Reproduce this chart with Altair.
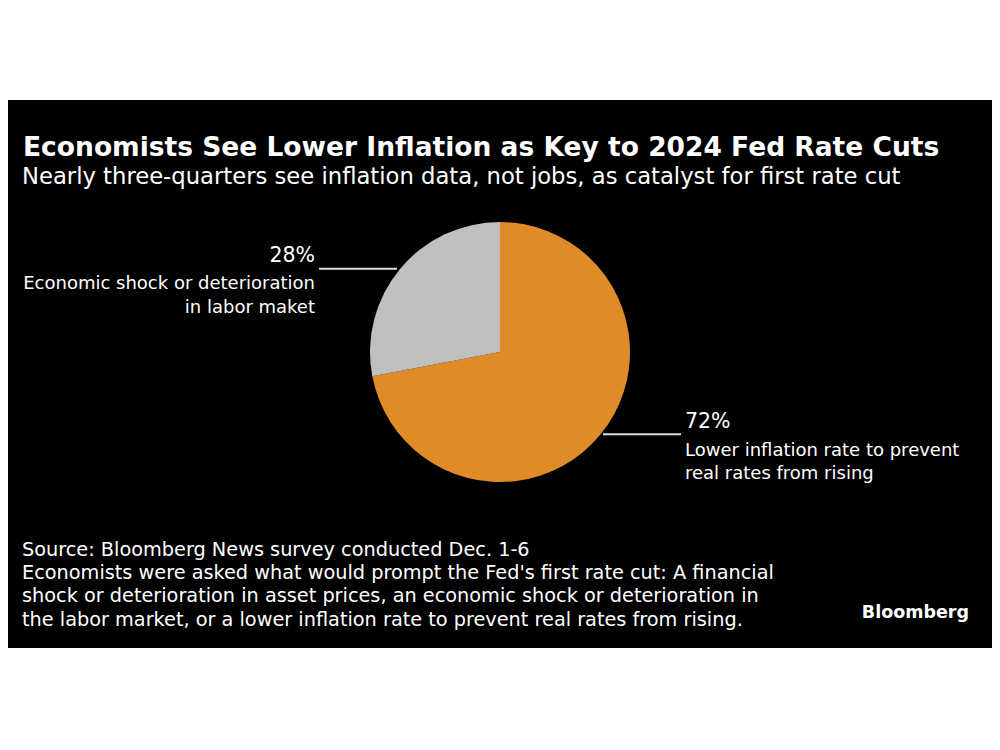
import altair as alt
import pandas as pd

# ---- data ----
categories = ["Lower inflation rate to prevent real rates from rising",
              "Economic shock or deterioration in labor maket"]
values = [72, 28]
colors = ["#DF8C28", "#BFBFBF"]

title_text = "Economists See Lower Inflation as Key to 2024 Fed Rate Cuts"
subtitle_text = "Nearly three-quarters see inflation data, not jobs, as catalyst for first rate cut"
label_pct = ["72%", "28%"]
label_72_lines = ["Lower inflation rate to prevent", "real rates from rising"]
label_28_lines = ["Economic shock or deterioration", "in labor maket"]
footnote_lines = [
    "Source: Bloomberg News survey conducted Dec. 1-6",
    "Economists were asked what would prompt the Fed's first rate cut: A financial",
    "shock or deterioration in asset prices, an economic shock or deterioration in",
    "the labor market, or a lower inflation rate to prevent real rates from rising.",
]
brand = "Bloomberg"

FONT = "DejaVu Sans"
W, H = 984, 548
CX, CY, R = 492, 252, 130

pie_df = pd.DataFrame({"category": categories, "value": values,
                       "order": list(range(len(categories)))})

pie = alt.Chart(pie_df).mark_arc(outerRadius=R, stroke=None).encode(
    theta=alt.Theta("value:Q", stack=True),
    color=alt.Color("category:N", scale=alt.Scale(domain=categories, range=colors), legend=None),
    order=alt.Order("order:Q"),
    x=alt.value(CX), y=alt.value(CY),
)


def one():
    return alt.Chart(pd.DataFrame({"k": [0]}))


def txt(s, x, y, size, align="left", weight="normal", color="#ffffff"):
    return one().mark_text(text=s, align=align, baseline="alphabetic", fontSize=size,
                           font=FONT, fontWeight=weight, color=color).encode(
        x=alt.value(x), y=alt.value(y))


def hline(x1, x2, y):
    return one().mark_rule(color="#dcdcdc", strokeWidth=2).encode(
        x=alt.value(x1), x2=alt.value(x2), y=alt.value(y))


layers = [pie,
          txt(title_text, 15, 56, 26.5, weight="bold"),
          txt(subtitle_text, 14, 84, 22.7),
          hline(311, 389, 168.7),
          txt(label_pct[1], 307, 162, 20.5, align="right"),
          txt(label_28_lines[0], 307, 189, 18, align="right"),
          txt(label_28_lines[1], 307, 212.7, 18, align="right"),
          hline(595, 673, 334.3),
          txt(label_pct[0], 677, 328, 20.5),
          txt(label_72_lines[0], 677, 355.7, 18),
          txt(label_72_lines[1], 677, 379.3, 18),
          ]
for i, line in enumerate(footnote_lines):
    layers.append(txt(line, 14, 456 + i * 23.2, 19.3))
layers.append(txt(brand, 961, 518, 17.5, align="right", weight="bold"))

chart = alt.layer(*layers).properties(
    width=W, height=H,
    padding={"left": 0, "top": 92, "right": 0, "bottom": 0},
    autosize=alt.AutoSizeParams(type="none"),
    background="#ffffff",
).configure_view(fill="#000000", strokeWidth=0)

chart.save("out.html", embed_options={"renderer": "svg", "actions": False})
